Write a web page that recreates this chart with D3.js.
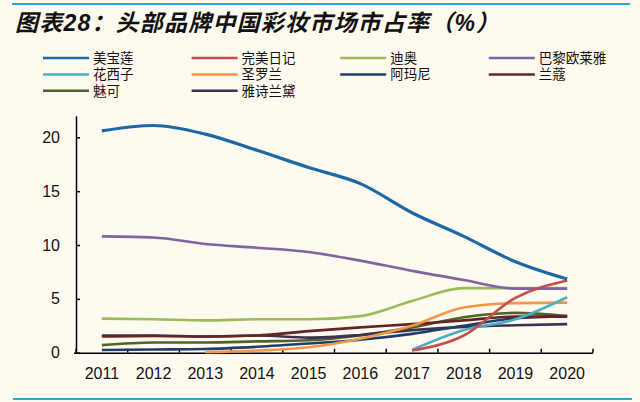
<!DOCTYPE html>
<html><head><meta charset="utf-8">
<script src="https://cdn.jsdelivr.net/npm/d3@7"></script>
<style>
body{margin:0;background:#fffaef;}
svg{display:block;}
text{font-family:"Liberation Sans",Arial,"Noto Sans CJK SC",sans-serif;}
</style></head>
<body>
<svg id="c" width="640" height="402"></svg>
<script>
const years = ["2011","2012","2013","2014","2015","2016","2017","2018","2019","2020"];
const seriesNames = ["美宝莲","完美日记","迪奥","巴黎欧莱雅","花西子","圣罗兰","阿玛尼","兰蔻","魅可","雅诗兰黛"];
const seriesColors = ["#1d67a6","#c0504d","#9bbb59","#8064a2","#4bacc6","#f79646","#1f3d6b","#632523","#4f6228","#3f3151"];
const maybelline = [20.6,21.1,20.3,18.8,17.2,15.7,13.0,10.8,8.45,6.84];
const perfectDiary = [null,null,null,null,null,null,0.2,1.6,5.1,6.7];
const dior = [3.16,3.1,3.0,3.1,3.1,3.4,4.8,6.0,6.0,6.0];
const lorealParis = [10.8,10.7,10.1,9.75,9.35,8.55,7.6,6.75,5.95,5.95];
const florasis = [null,null,null,null,null,null,0.25,2.1,3.1,5.15];
const ysl = [null,null,0.05,0.2,0.5,1.3,2.5,4.2,4.6,4.65];
const armani = [0.25,0.3,0.35,0.55,0.85,1.2,1.75,2.5,3.2,3.4];
const lancome = [1.5,1.55,1.5,1.6,2.0,2.35,2.65,3.0,3.35,3.35];
const mac = [0.7,0.95,0.95,1.05,1.15,1.6,2.35,3.3,3.7,3.4];
const esteeLauder = [1.6,1.6,1.5,1.6,1.4,1.65,2.1,2.4,2.55,2.65];
const seriesValues = [maybelline,perfectDiary,dior,lorealParis,florasis,ysl,armani,lancome,mac,esteeLauder];
const yTicks = [0,5,10,15,20];
const titleText = "图表28：头部品牌中国彩妆市场市占率（%）";

const svg = d3.select("#c");
svg.append("rect").attr("width",640).attr("height",402).attr("fill","#fffaef");
// top and bottom rules
svg.append("line").attr("x1",12).attr("x2",630).attr("y1",4).attr("y2",4).attr("stroke","#2aa6d6").attr("stroke-width",2);
svg.append("line").attr("x1",13).attr("x2",632).attr("y1",399).attr("y2",399).attr("stroke","#2aa6d6").attr("stroke-width",2);
svg.append("text").attr("x",15).attr("y",31).attr("font-size",23).attr("font-weight","bold").attr("font-style","italic")
  .attr("letter-spacing",1.2)
  .attr("font-family","'Noto Sans CJK SC',sans-serif").attr("fill","#111").text(titleText);

const x = d3.scaleBand().domain(years).range([76,593]);
const y = d3.scaleLinear().domain([0,22]).range([352.7,115.8]);

// legend
const leg = svg.append("g");
seriesNames.forEach((n,i)=>{
  const col=i%4,row=Math.floor(i/4);
  const lx=43+col*148.6, ly=58+row*16.4;
  leg.append("line").attr("x1",lx).attr("x2",lx+46).attr("y1",ly).attr("y2",ly).attr("stroke",seriesColors[i]).attr("stroke-width",2.5);
  leg.append("text").attr("x",lx+50).attr("y",ly+4.8).attr("font-size",13.5).attr("font-family","'Noto Sans CJK SC',sans-serif").attr("fill","#111").text(n);
});

// axes
const xAxis = d3.axisBottom(x).tickSizeInner(0).tickSizeOuter(0).tickPadding(15);
const gx = svg.append("g").attr("transform","translate(0,352.7)").call(xAxis);
gx.select(".domain").attr("stroke","#000").attr("stroke-width",1.5).attr("d","M74,0.5H593");
gx.selectAll("text").attr("font-size",16).attr("fill","#111");
// x boundary ticks (inward)
const bounds = years.map((d)=>x(d)+x.bandwidth()).concat([x(years[0])]);
gx.selectAll(".bt").data(bounds).join("line").attr("x1",d=>d).attr("x2",d=>d).attr("y1",0).attr("y2",-4).attr("stroke","#000").attr("stroke-width",1.5);

const yAxis = d3.axisLeft(y).tickValues(yTicks).tickSizeInner(-4).tickSizeOuter(0).tickPadding(16);
const gy = svg.append("g").attr("transform","translate(76,0)").call(yAxis);
gy.select(".domain").attr("stroke","#000").attr("stroke-width",1.5);
gy.selectAll(".tick line").attr("stroke","#000").attr("stroke-width",1.5);
gy.selectAll("text").attr("font-size",16).attr("fill","#111");

// lines
const line = d3.line().defined(d=>d.v!==null).x(d=>x(d.y)+x.bandwidth()/2).y(d=>y(d.v)).curve(d3.curveMonotoneX);
const order = [2,3,8,9,6,7,5,4,1,0];
order.forEach(i=>{
  const data = years.map((yr,j)=>({y:yr,v:seriesValues[i][j]}));
  svg.append("path").attr("d",line(data)).attr("fill","none").attr("stroke",seriesColors[i])
    .attr("stroke-width",i===0?3.2:2.6).attr("stroke-linejoin","round");
});
</script>
</body></html>
